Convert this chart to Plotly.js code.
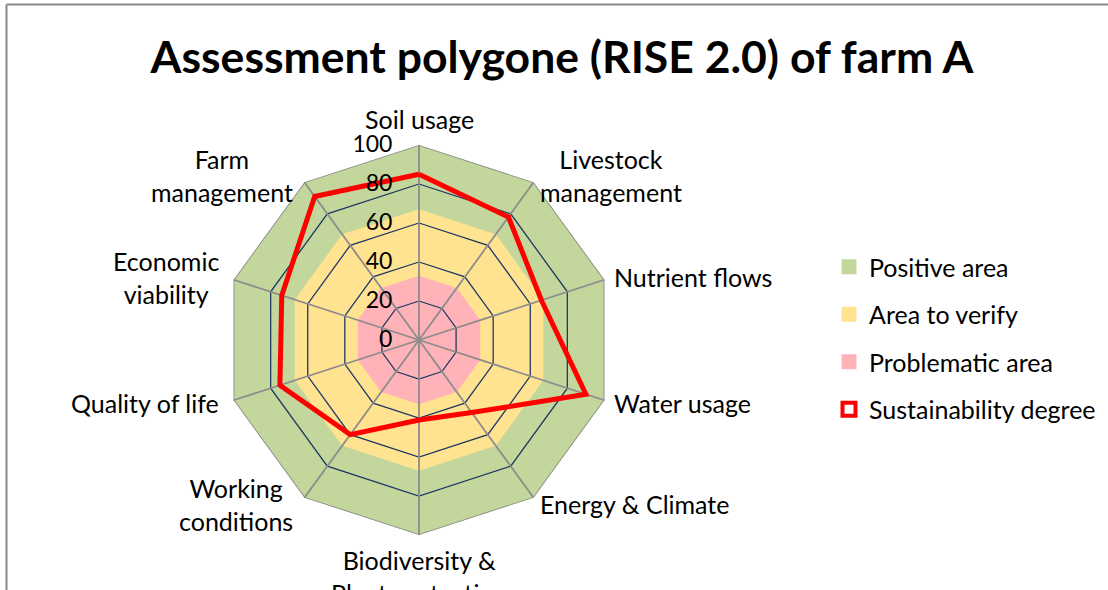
<!DOCTYPE html>
<html>
<head>
<meta charset="utf-8">
<script src="https://cdn.plot.ly/plotly-3.0.1.min.js"></script>
<style>html,body{margin:0;padding:0;background:#fff;}#chart{width:1108px;height:590px;}</style>
</head>
<body>
<div id="chart"></div>
<script>
// ---- data ----
const categories = ["Soil usage", "Livestock management", "Nutrient flows", "Water usage", "Energy & Climate",
  "Biodiversity & Plant protection", "Working conditions", "Quality of life", "Economic viability", "Farm management"];
const categoryLabels = ["Soil usage", "Livestock<br>management", "Nutrient flows", "Water usage", "Energy & Climate",
  "Biodiversity &<br>Plant protection", "Working<br>conditions", "Quality of life", "Economic<br>viability", "Farm<br>management"];
const sustainability = [85, 78, 66, 90, 46, 41, 60, 75, 74, 91];
const positiveLevel = 100;
const verifyLevel = 67;
const problemLevel = 33;
const radialTicks = [0, 20, 40, 60, 80, 100];
const seriesNames = ["Positive area", "Area to verify", "Problematic area", "Sustainability degree"];

// ---- geometry of the page ----
const W = 1108, H = 590;
const cx = 419, cy = 340, R = 195;

// ---- helpers ----
const closeLoop = arr => arr.concat([arr[0]]);
const theta = closeLoop(categories);
const flat = v => closeLoop(categories.map(() => v));

const green = "#C3D69B", yellow = "#FFE391", pink = "#FFB3B8", red = "#FF0000";
const navy = "#1F3864", grey = "#8C8C8C";

const traces = [];
[[positiveLevel, green], [verifyLevel, yellow], [problemLevel, pink]].forEach(([lvl, col]) => {
  traces.push({type: "scatterpolar", r: flat(lvl), theta: theta, mode: "lines", fill: "toself",
    fillcolor: col, line: {width: 0, color: col}, showlegend: false, hoverinfo: "skip"});
});
// inner grid rings
radialTicks.filter(t => t > 0 && t < 100).forEach(t => {
  traces.push({type: "scatterpolar", r: flat(t), theta: theta, mode: "lines",
    line: {color: navy, width: 1.3}, showlegend: false, hoverinfo: "skip"});
});
// spokes
const spokeR = [], spokeT = [];
categories.forEach(c => { spokeR.push(0, 100, null); spokeT.push(c, c, c); });
traces.push({type: "scatterpolar", r: spokeR, theta: spokeT, mode: "lines", connectgaps: false,
  line: {color: grey, width: 1.8}, showlegend: false, hoverinfo: "skip"});
// outer ring
traces.push({type: "scatterpolar", r: flat(100), theta: theta, mode: "lines",
  line: {color: grey, width: 1.8}, showlegend: false, hoverinfo: "skip"});
// data line
traces.push({type: "scatterpolar", r: closeLoop(sustainability), theta: theta, mode: "lines",
  name: seriesNames[3], line: {color: red, width: 5, shape: "linear"}, showlegend: false});
// legend entries
const legendCols = [green, yellow, pink];
seriesNames.forEach((n, i) => {
  traces.push({type: "scatterpolar", r: [null], theta: [null], mode: "markers", name: n, legendgroup: "g" + i,
    marker: i < 3 ? {symbol: "square", size: 15, color: legendCols[i]} :
                    {symbol: "square-open", size: 13, color: red, line: {width: 4, color: red}},
    hoverinfo: "skip"});
});

// category labels placed around the polygon (Excel style: box beside the vertex)
const annotations = categoryLabels.map((lab, i) => {
  const a = i * 2 * Math.PI / categories.length;
  const s = Math.sin(a), c = Math.cos(a);
  let d = 8, xanchor = "center", yanchor = "middle", xs = 0;
  if (Math.abs(s) < 0.1) { yanchor = c > 0 ? "bottom" : "top"; d = c > 0 ? 9 : 8; }
  else { xanchor = s > 0 ? "left" : "right"; if (s < 0) xs = -5; }
  const px = cx + (R + d) * s, py = cy - (R + d) * c;
  return {text: lab, x: px / W, y: 1 - py / H, xref: "paper", yref: "paper", xanchor, yanchor, xshift: xs,
    align: "center", showarrow: false, font: {size: 25, color: "#000"}};
});

const layout = {
  width: W, height: H,
  margin: {l: 0, r: 0, t: 0, b: 0},
  paper_bgcolor: "#fff",
  font: {family: "Lato, 'Open Sans', sans-serif", color: "#000", size: 25},
  title: {text: "<b>Assessment polygone (RISE 2.0) of farm A</b>", x: 562 / W, xanchor: "center",
    y: 1 - 57 / H, yanchor: "middle", font: {size: 44.5, family: "Lato, sans-serif", color: "#000"}},
  polar: {
    domain: {x: [(cx - R) / W, (cx + R) / W], y: [(H - cy - R) / H, (H - cy + R) / H]},
    gridshape: "linear",
    bgcolor: "rgba(0,0,0,0)",
    radialaxis: {range: [0, 100], tickvals: radialTicks, angle: 90, side: "counterclockwise", tickangle: 90,
      showgrid: false, showline: false, ticks: "outside", ticklen: 18, tickcolor: "rgba(0,0,0,0)",
      tickfont: {size: 23, color: "#000"}, layer: "above traces"},
    angularaxis: {rotation: 90, direction: "clockwise", showgrid: false, showline: false,
      ticks: "", showticklabels: false, categoryorder: "array", categoryarray: categories}
  },
  annotations: annotations,
  showlegend: true,
  legend: {x: 829 / W, y: 1 - 244 / H, xanchor: "left", yanchor: "top", tracegroupgap: 12,
    font: {size: 25, color: "#000"}, bgcolor: "rgba(0,0,0,0)"},
  shapes: [
    {type: "line", xref: "paper", yref: "paper", x0: 6.5 / W, x1: 6.5 / W, y0: 0, y1: 1 - 4.5 / H,
      line: {color: "#888", width: 2}},
    {type: "line", xref: "paper", yref: "paper", x0: 6.5 / W, x1: 1, y0: 1 - 4.5 / H, y1: 1 - 4.5 / H,
      line: {color: "#888", width: 2}}
  ]
};

Plotly.newPlot("chart", traces, layout, {displayModeBar: false, staticPlot: true});
</script>
</body>
</html>
